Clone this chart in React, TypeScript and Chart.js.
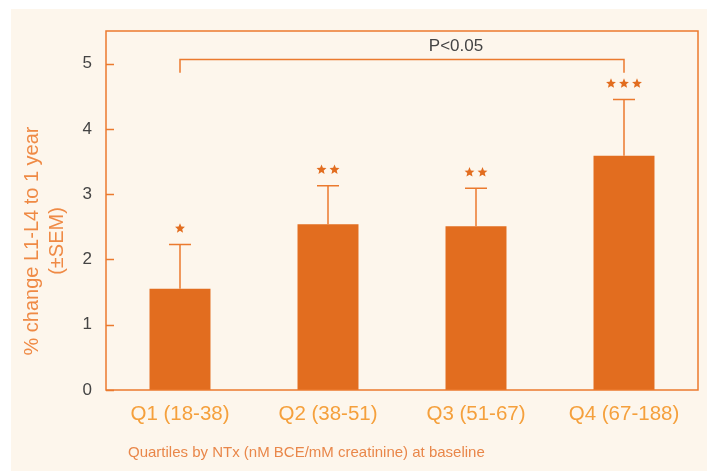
import React, { useEffect, useRef } from "react";
import { Chart, registerables } from "chart.js";

Chart.register(...registerables);

const categories = ["Q1 (18-38)", "Q2 (38-51)", "Q3 (51-67)", "Q4 (67-188)"];
const meanChange = [1.55, 2.54, 2.51, 3.59];
const semValues = [0.68, 0.59, 0.58, 0.86];
const starCounts = [1, 2, 2, 3];
const yTicks = [0, 1, 2, 3, 4, 5];
const bracketTop = 5.07;
const bracketDrop = 4.86;
const bracketLabel = "P<0.05";
const yTitleLines = ["% change L1-L4 to 1 year", "(±SEM)"];
const xTitle = "Quartiles by NTx (nM BCE/mM creatinine) at baseline";

const ORANGE = "#e26d1f";
const LINE = "#eb7a2e";
const CREAM = "#fdf6ec";
const FONT = "'Liberation Sans', Arial, sans-serif";

function drawStar(ctx: CanvasRenderingContext2D, cx: number, cy: number, r: number) {
  ctx.beginPath();
  for (let i = 0; i < 10; i++) {
    const rad = i % 2 === 0 ? r : r * 0.45;
    const a = -Math.PI / 2 + (i * Math.PI) / 5;
    const x = cx + rad * Math.cos(a);
    const y = cy + rad * Math.sin(a);
    if (i === 0) ctx.moveTo(x, y);
    else ctx.lineTo(x, y);
  }
  ctx.closePath();
  ctx.fill();
}

const decorPlugin = {
  id: "decor",
  beforeDraw(chart: any) {
    const { ctx, width, height } = chart;
    ctx.save();
    ctx.fillStyle = "#ffffff";
    ctx.fillRect(0, 0, width, height);
    ctx.fillStyle = CREAM;
    ctx.fillRect(11, 9, width - 11, height - 9);
    ctx.restore();
  },
  afterDatasetsDraw(chart: any) {
    const { ctx, chartArea } = chart;
    const xs = chart.scales.x;
    const ys = chart.scales.y;
    ctx.save();

    // plot frame
    ctx.strokeStyle = LINE;
    ctx.lineWidth = 1.5;
    ctx.strokeRect(chartArea.left, chartArea.top, chartArea.right - chartArea.left, chartArea.bottom - chartArea.top);

    // inward tick marks on the value axis
    yTicks.forEach((v) => {
      const y = Math.round(ys.getPixelForValue(v)) + 0.5;
      ctx.beginPath();
      ctx.moveTo(chartArea.left, y);
      ctx.lineTo(chartArea.left + 8, y);
      ctx.stroke();
    });

    // error bars and significance stars
    meanChange.forEach((m, i) => {
      const x = xs.getPixelForValue(i);
      const yTop = ys.getPixelForValue(m);
      const yCap = ys.getPixelForValue(m + semValues[i]);
      ctx.strokeStyle = LINE;
      ctx.lineWidth = 1.5;
      ctx.beginPath();
      ctx.moveTo(x, yTop);
      ctx.lineTo(x, yCap);
      ctx.moveTo(x - 11, yCap);
      ctx.lineTo(x + 11, yCap);
      ctx.stroke();

      ctx.fillStyle = ORANGE;
      const n = starCounts[i];
      const gap = 13;
      for (let k = 0; k < n; k++) {
        const sx = x + (k - (n - 1) / 2) * gap;
        drawStar(ctx, sx, yCap - 16, 5.2);
      }
    });

    // bracket between Q1 and Q4
    const x1 = xs.getPixelForValue(0);
    const x4 = xs.getPixelForValue(3);
    const yb = Math.round(ys.getPixelForValue(bracketTop)) + 0.5;
    const yd = ys.getPixelForValue(bracketDrop);
    ctx.strokeStyle = LINE;
    ctx.lineWidth = 1.5;
    ctx.beginPath();
    ctx.moveTo(x1, yd);
    ctx.lineTo(x1, yb);
    ctx.lineTo(x4, yb);
    ctx.lineTo(x4, yd);
    ctx.stroke();
    ctx.fillStyle = "#444444";
    ctx.font = `17px ${FONT}`;
    ctx.textAlign = "center";
    ctx.textBaseline = "middle";
    ctx.fillText(bracketLabel, (x1 + x4) / 2 + 54, yb - 13);

    // value axis title
    ctx.fillStyle = "#ef8a45";
    ctx.font = `20px ${FONT}`;
    ctx.save();
    ctx.translate(32, 241);
    ctx.rotate(-Math.PI / 2);
    ctx.fillText(yTitleLines[0], 0, 0);
    ctx.fillText(yTitleLines[1], 0, 25);
    ctx.restore();

    // category axis title
    ctx.fillStyle = "#e9874a";
    ctx.font = `15px ${FONT}`;
    ctx.textAlign = "left";
    ctx.fillText(xTitle, chartArea.left + 22, 453);

    ctx.restore();
  },
};

export default function App() {
  const canvasRef = useRef<HTMLCanvasElement | null>(null);

  useEffect(() => {
    if (!canvasRef.current) return;
    const chart = new Chart(canvasRef.current, {
      type: "bar",
      data: {
        labels: categories,
        datasets: [
          {
            data: meanChange,
            backgroundColor: ORANGE,
            borderWidth: 0,
            barPercentage: 0.412,
            categoryPercentage: 1,
          },
        ],
      },
      options: {
        responsive: false,
        animation: false,
        maintainAspectRatio: false,
        layout: { padding: { top: 31, right: 9, left: 0, bottom: 0 } },
        plugins: {
          legend: { display: false },
          tooltip: { enabled: false },
          title: { display: false },
        },
        scales: {
          x: {
            grid: { display: false, drawTicks: false },
            border: { display: false },
            ticks: {
              color: "#f5a03c",
              font: { family: FONT, size: 20.5 },
              padding: 12,
              maxRotation: 0,
            },
            afterFit: (s: any) => {
              s.height = 81;
            },
          },
          y: {
            min: 0,
            max: 5.5,
            grid: { display: false, drawTicks: false },
            border: { display: false },
            ticks: {
              color: "#444444",
              font: { family: FONT, size: 17 },
              padding: 14,
            },
            afterBuildTicks: (s: any) => {
              s.ticks = yTicks.map((v) => ({ value: v }));
            },
            afterFit: (s: any) => {
              s.width = 106;
            },
          },
        },
      },
      plugins: [decorPlugin],
    });
    return () => chart.destroy();
  }, []);

  return (
    <div style={{ position: "fixed", left: 0, top: 0, width: 707, height: 471 }}>
      <canvas ref={canvasRef} width={707} height={471} style={{ display: "block" }} />
    </div>
  );
}
